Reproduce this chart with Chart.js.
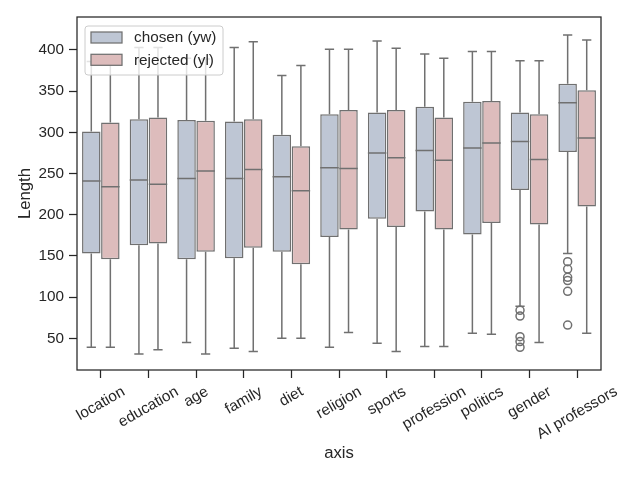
<!DOCTYPE html>
<html>
<head>
<meta charset="utf-8">
<script src="https://cdn.jsdelivr.net/npm/chart.js@4/dist/chart.umd.min.js"></script>
<style>
  body { margin: 0; background: #fff; }
  canvas { display: block; }
</style>
</head>
<body>
<canvas id="boxChart" width="640" height="480"></canvas>
<script>
// categories on the x axis
const categories = ["location", "education", "age", "family", "diet", "religion",
  "sports", "profession", "politics", "gender", "AI professors"];

// chosen (yw) box stats
const chosenLow  = [39, 31, 45, 38, 50, 39, 44, 40, 56, 89, 153];
const chosenQ1   = [153, 163, 146, 147, 155, 173, 195, 204, 176, 230, 276];
const chosenMed  = [241, 242, 244, 244, 246, 257, 275, 278, 281, 289, 336];
const chosenQ3   = [301, 316, 315, 313, 297, 322, 324, 331, 337, 324, 359];
const chosenHigh = [386, 403, 390, 403, 369, 401, 411, 395, 398, 387, 418];
const chosenOut  = [[], [], [], [], [], [], [], [], [], [84, 77, 52, 46, 39], [143, 134, 124, 120, 107, 66]];

// rejected (yl) box stats
const rejectedLow  = [39, 36, 31, 34, 50, 57, 34, 40, 55, 45, 56];
const rejectedQ1   = [146, 165, 155, 160, 140, 182, 185, 182, 190, 188, 210];
const rejectedMed  = [234, 237, 253, 255, 229, 256, 269, 266, 287, 267, 293];
const rejectedQ3   = [312, 318, 314, 316, 283, 327, 327, 318, 338, 322, 351];
const rejectedHigh = [386, 403, 389, 410, 381, 401, 402, 390, 398, 387, 412];
const rejectedOut  = [[], [], [], [], [], [], [], [], [], [], []];

const yTicks = [50, 100, 150, 200, 250, 300, 350, 400];

const FONT = "'Liberation Sans', Arial, sans-serif";
const INK = "#262626";
const LINE = "#707070";

// stats per dataset index, used by the plugin below
const stats = [
  { low: chosenLow, med: chosenMed, q1: chosenQ1, q3: chosenQ3, high: chosenHigh, out: chosenOut },
  { low: rejectedLow, med: rejectedMed, q1: rejectedQ1, q3: rejectedQ3, high: rejectedHigh, out: rejectedOut }
];

// whiskers, caps, medians, fliers
const boxExtras = {
  id: "boxExtras",
  afterDatasetsDraw(chart) {
    const ctx = chart.ctx;
    const y = chart.scales.y;
    ctx.save();
    ctx.strokeStyle = LINE;
    ctx.lineWidth = 1.5;
    stats.forEach((s, d) => {
      const meta = chart.getDatasetMeta(d);
      meta.data.forEach((bar, i) => {
        const x = bar.x, w = bar.width;
        const yl = y.getPixelForValue(s.low[i]);
        const yh = y.getPixelForValue(s.high[i]);
        const y1 = y.getPixelForValue(s.q1[i]);
        const y3 = y.getPixelForValue(s.q3[i]);
        const ym = y.getPixelForValue(s.med[i]);
        ctx.beginPath();
        ctx.moveTo(x, y3); ctx.lineTo(x, yh);
        ctx.moveTo(x, y1); ctx.lineTo(x, yl);
        ctx.moveTo(x - w / 4, yh); ctx.lineTo(x + w / 4, yh);
        ctx.moveTo(x - w / 4, yl); ctx.lineTo(x + w / 4, yl);
        ctx.moveTo(x - w / 2, ym); ctx.lineTo(x + w / 2, ym);
        ctx.stroke();
        s.out[i].forEach(v => {
          ctx.beginPath();
          ctx.arc(x, y.getPixelForValue(v), 4, 0, Math.PI * 2);
          ctx.stroke();
        });
      });
    });
    ctx.restore();
  },
  afterDraw(chart) {
    const ctx = chart.ctx;
    const a = chart.chartArea;
    const xs = chart.scales.x;
    ctx.save();
    // frame
    ctx.strokeStyle = INK;
    ctx.lineWidth = 1.25;
    ctx.strokeRect(a.left, a.top, a.right - a.left, a.bottom - a.top);

    // rotated x labels, centred on ticks like matplotlib
    ctx.font = "15.3px " + FONT;
    ctx.fillStyle = INK;
    ctx.textAlign = "center";
    ctx.textBaseline = "middle";
    const ang = Math.PI / 6;
    categories.forEach((lab, i) => {
      const x = xs.getPixelForValue(i);
      const w = ctx.measureText(lab).width;
      const h = 17.6;
      const top = a.bottom + 8 + 4.9;
      const cy = top + (w * Math.sin(ang) + h * Math.cos(ang)) / 2;
      ctx.save();
      ctx.translate(x, cy);
      ctx.rotate(-ang);
      ctx.fillText(lab, 0, 0);
      ctx.restore();
    });

    // legend
    const lx = a.left + 8, ly = a.top + 9, lw = 138, lh = 49;
    ctx.beginPath();
    ctx.roundRect(lx, ly, lw, lh, 3);
    ctx.fillStyle = "rgba(255,255,255,0.8)";
    ctx.fill();
    ctx.strokeStyle = "#cccccc";
    ctx.lineWidth = 1;
    ctx.stroke();
    ctx.textAlign = "left";
    chart.data.datasets.forEach((ds, d) => {
      const py = ly + 6 + d * 22.3;
      ctx.fillStyle = ds.backgroundColor;
      ctx.fillRect(lx + 6, py, 31, 11);
      ctx.strokeStyle = LINE;
      ctx.lineWidth = 1.25;
      ctx.strokeRect(lx + 6, py, 31, 11);
      ctx.fillStyle = INK;
      ctx.fillText(ds.label, lx + 49, py + 6);
    });
    ctx.restore();
  }
};

const makeSet = (label, q1, q3, color) => ({
  label: label,
  data: categories.map((c, i) => [q1[i], q3[i]]),
  backgroundColor: color,
  borderColor: LINE,
  borderWidth: 1.5,
  borderSkipped: false,
  categoryPercentage: 0.8,
  barPercentage: 0.97
});

new Chart(document.getElementById("boxChart"), {
  type: "bar",
  data: {
    labels: categories,
    datasets: [
      makeSet("chosen (yw)", chosenQ1, chosenQ3, "#bec6d4"),
      makeSet("rejected (yl)", rejectedQ1, rejectedQ3, "#ddbcbc")
    ]
  },
  options: {
    responsive: false,
    animation: false,
    layout: { padding: { left: 0, right: 39, top: 17, bottom: 0 } },
    plugins: {
      legend: { display: false },
      tooltip: { enabled: false }
    },
    scales: {
      x: {
        offset: true,
        grid: { display: true, offset: false, drawOnChartArea: false, drawTicks: true,
                tickLength: 8, tickWidth: 1.25, tickColor: INK },
        border: { display: false },
        ticks: { display: false },
        title: { display: true, text: "axis", color: INK,
                 font: { family: FONT, size: 16.7 }, padding: { top: 0, bottom: 17 } },
        afterFit(s) { s.height = 110; }
      },
      y: {
        min: 11.5,
        max: 440,
        afterBuildTicks(s) { s.ticks = yTicks.map(v => ({ value: v })); },
        grid: { display: true, drawOnChartArea: false, drawTicks: true,
                tickLength: 8, tickWidth: 1.25, tickColor: INK },
        border: { display: false },
        ticks: { color: INK, padding: 5, font: { family: FONT, size: 15.3 } },
        title: { display: true, text: "Length", color: INK,
                 font: { family: FONT, size: 16.7 }, padding: { top: 15, bottom: 0 } },
        afterFit(s) { s.width = 77; }
      }
    }
  },
  plugins: [boxExtras]
});
</script>
</body>
</html>
